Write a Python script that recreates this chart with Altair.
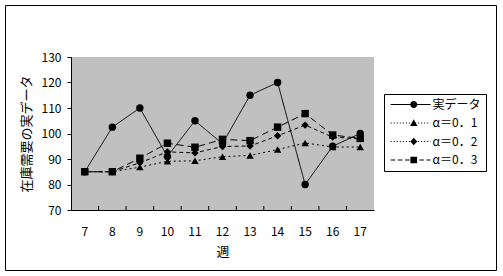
import altair as alt
import pandas as pd

weeks = [7, 8, 9, 10, 11, 12, 13, 14, 15, 16, 17]
actual = [85, 102.5, 110, 91, 105, 96, 115, 120, 80, 95, 100]
alpha01 = [85, 85, 86.8, 89.1, 89.3, 90.9, 91.4, 93.7, 96.3, 94.7, 94.7]
alpha02 = [85, 85, 88.5, 92.8, 92.4, 94.9, 95.1, 99.1, 103.3, 98.6, 97.9]
alpha03 = [85, 85, 90.3, 96.2, 94.6, 97.7, 97.2, 102.5, 107.8, 99.4, 98.1]
series_names = ["実データ", "α＝0．1", "α＝0．2", "α＝0．3"]
y_ticks = [70, 80, 90, 100, 110, 120, 130]

rows = []
for name, vals in zip(series_names, [actual, alpha01, alpha02, alpha03]):
    for w, v in zip(weeks, vals):
        rows.append({"week": w, "value": v, "series": name})
df = pd.DataFrame(rows)
week_df = pd.DataFrame({"week": weeks[1:]})

FONT = "Noto Sans CJK JP"
W, H = 303, 153
LEFT, TOP = 71, 57


def dash_path(x0, x1, on, off, t=0.15):
    parts = []
    x = x0
    while x < x1 - 1e-6:
        e = min(x + on, x1)
        parts.append(f"M{x:.3f},{-t}H{e:.3f}V{t}H{x:.3f}Z")
        x = e + off
    return "".join(parts)


mx = 5.5
L0, L1 = -1.1, 10.3
markers = [
    f"M{mx+1.0:.2f},0A1.0,1.0 0 1,1 {mx-1.0:.2f},0A1.0,1.0 0 1,1 {mx+1.0:.2f},0Z",
    f"M{mx:.2f},-1.05L{mx+1.05:.2f},0.85L{mx-1.05:.2f},0.85Z",
    f"M{mx:.2f},-1.1L{mx+1.0:.2f},0L{mx:.2f},1.1L{mx-1.0:.2f},0Z",
    f"M{mx-0.95:.2f},-0.95H{mx+0.95:.2f}V0.95H{mx-0.95:.2f}Z",
]
lines = [
    dash_path(L0, L1, L1 - L0, 0),
    dash_path(L0, L1, 0.3, 0.57),
    dash_path(L0, L1, 0.3, 0.57),
    dash_path(L0, L1, 1.3, 0.75),
]
legend_paths = [l + m for l, m in zip(lines, markers)]

x_scale = alt.Scale(type="band", paddingInner=0, paddingOuter=0)
y_scale = alt.Scale(domain=[70, 130], nice=False, zero=False)

x_axis = alt.Axis(
    orient="bottom", title="週", ticks=False, labelAngle=0,
    labelPadding=16, titlePadding=8, domainColor="black",
    labelColor="black", titleColor="black", labelFont=FONT,
    titleFont=FONT, labelFontSize=12, titleFontSize=13,
    titleFontWeight="normal")
y_axis = alt.Axis(
    values=y_ticks, title="在庫需要の実データ", tickSize=4,
    tickColor="black", domainColor="black", labelColor="black",
    titleColor="black", labelFont=FONT, titleFont=FONT,
    labelFontSize=12, titleFontSize=13, titleFontWeight="normal",
    labelPadding=6, titlePadding=8, grid=False)

border = alt.Chart(alt.Data(values=[{}])).mark_rect(
    filled=False, stroke="black", strokeWidth=1
).encode(
    x=alt.value(5.5 - LEFT), x2=alt.value(496.5 - LEFT),
    y=alt.value(5.5 - TOP), y2=alt.value(270.5 - TOP),
)

tick_layer = alt.Chart(week_df).mark_rule(color="black", strokeWidth=1).encode(
    x=alt.X("week:O", scale=x_scale, bandPosition=0, axis=x_axis),
    y=alt.value(H - 4), y2=alt.value(H),
)

line_layer = alt.Chart(df).mark_line(color="black", strokeWidth=1).encode(
    x=alt.X("week:O", scale=x_scale, axis=x_axis),
    y=alt.Y("value:Q", scale=y_scale, axis=y_axis),
    strokeDash=alt.StrokeDash("series:N", scale=alt.Scale(
        domain=series_names, range=[[1, 0], [2, 3], [4, 3], [7, 4]]),
        legend=None),
    detail="series:N",
)

point_layer = alt.Chart(df).mark_point(
    filled=True, color="black", opacity=1, size=55
).encode(
    x=alt.X("week:O", scale=x_scale, axis=x_axis),
    y=alt.Y("value:Q", scale=y_scale, axis=y_axis),
    shape=alt.Shape("series:N", scale=alt.Scale(
        domain=series_names,
        range=["circle", "triangle-up", "diamond", "square"]), legend=None),
)

legend_layer = alt.Chart(df).mark_point(
    filled=True, fill="black", opacity=0
).encode(
    x=alt.X("week:O", scale=x_scale, axis=x_axis),
    y=alt.Y("value:Q", scale=y_scale, axis=y_axis),
    shape=alt.Shape("series:N", scale=alt.Scale(
        domain=series_names, range=legend_paths), legend=alt.Legend(
        title=None, orient="none", legendX=313, legendY=37,
        strokeColor="black", fillColor="white", padding=4.5,
        rowPadding=6.5, symbolSize=49, symbolOpacity=1,
        symbolFillColor="black", symbolStrokeWidth=0,
        labelOffset=32, labelFont=FONT,
        labelFontSize=12, labelColor="black", labelLimit=200,
        cornerRadius=0)),
)

chart = alt.layer(border, tick_layer, line_layer, point_layer, legend_layer).resolve_scale(
    shape="independent"
).properties(
    width=W, height=H,
    autosize=alt.AutoSizeParams(type="none"),
    padding={"left": LEFT, "top": TOP, "right": 503 - LEFT - W,
             "bottom": 276 - TOP - H},
    background="white",
).configure_view(fill="#C0C0C0", stroke=None)

chart.save("out.html", embed_options={"renderer": "svg", "actions": False})
